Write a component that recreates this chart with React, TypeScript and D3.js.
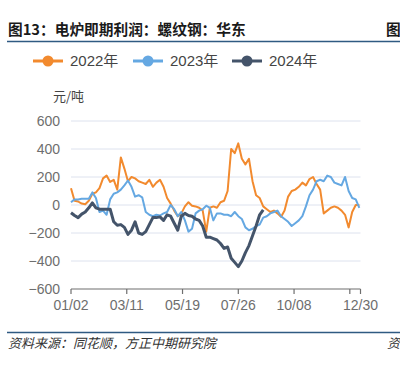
import React from "react";
import * as d3 from "d3";

const title = "图13：电炉即期利润：螺纹钢：华东";
const source = "资料来源：同花顺，方正中期研究院";
const unit = "元/吨";
const seriesNames = ["2022年", "2023年", "2024年"];
const seriesColors = ["#f28a2e", "#65a8e2", "#44546a"];
const seriesWidths = [2, 2, 3];

const totalDays = 244;
const sampleStep = 3;
const xTickIdx = [0, 47, 94, 141, 188, 235, 244];
const xTickLabels = ["01/02", "03/11", "05/19", "07/26", "10/08", "", "12/30"];
const yTicks = [-600, -400, -200, 0, 200, 400, 600];

const v2022 = [
  120, 30, 25, 10, 5, 30, 80, 90, 120, 190, 210, 165, 180, 110, 340, 260, 170, 200, 190, 170,
  160, 150, 180, 130, 160, 180, 130, 50, 10, -40, -80, -60, -10, 20, -5, -10, -20, -40, -190, -20,
  -10, -20, 20, 30, 100, 400, 370, 440, 330, 290, 330, 170, 70, 50, -10, -30, -50, -40, -60, -85,
  -40, 60, 100, 110, 130, 160, 140, 185, 200, 150, 110, -60, -40, -20, -10, -20, -40, -70, -160, -50,
  0, 0,
];
const v2023 = [
  20, 40, 40, 45, 45, 45, 90, 50, -50, -40, -70, 40, 80, 90, 110, 140, 175, 130, 60, 70,
  55, -50, -70, -80, -70, -75, -60, -50, 0, -30, -80, -50, -110, -190, -170, -60, -40, -30, -5, -20,
  -110, -60, -60, -70, -70, -80, -50, -80, -100, -160, -180, -170, -150, -140, -90, -80, -60, -50, -40, -80,
  -100, -120, -150, -130, -110, -80, -10, 70, 110, 170, 180, 170, 210, 200, 160, 150, 140, 200, 100, 50,
  40, -20,
];
const v2024 = [
  -55, -75, -90, -65, -50, -20, 15, -20, -30, -30, -30, -30, -120, -145, -140, -160, -210, -180, -120, -200,
  -210, -190, -140, -90, -90, -85, -110, -70, -80, -130, -180, -80, -60, -75, -80, -100, -110, -150, -230, -230,
  -240, -250, -275, -310, -300, -380, -410, -440, -400, -340, -290, -220, -150, -70, -35,
];

const W = 400;
const H = 365;
const plotL = 71;
const plotR = 360.5;
const plotT = 121;
const plotB = 289;
const fontLatin = "'Liberation Sans', Arial, 'Noto Sans CJK SC', sans-serif";
const fontCJK = "'Noto Sans CJK SC', 'Liberation Sans', sans-serif";

export default function App() {
  const x = d3.scaleLinear().domain([0, totalDays]).range([plotL, plotR]);
  const y = d3.scaleLinear().domain([-600, 600]).range([plotB, plotT]);
  const line = d3
    .line<number>()
    .x((_, i) => x(Math.min(i * sampleStep, totalDays)))
    .y((d) => y(d));
  const data = [v2022, v2023, v2024];
  const legendX = [33, 133, 232];

  return (
    <svg width={W} height={H} style={{ position: "absolute", left: 0, top: 0, background: "#fff" }}>
      <text x={8} y={35} fontFamily={fontCJK} fontSize={14.7} fontWeight="bold" fill="#1a1a1a">
        {title}
      </text>
      <text x={386} y={35} fontFamily={fontCJK} fontSize={14.7} fontWeight="bold" fill="#1a1a1a">
        图
      </text>
      <line x1={7} x2={400} y1={41.5} y2={41.5} stroke="#2f5a82" strokeWidth={1.3} />

      {seriesNames.map((n, i) => (
        <g key={n}>
          <line
            x1={legendX[i]}
            x2={legendX[i] + 30}
            y1={61}
            y2={61}
            stroke={seriesColors[i]}
            strokeWidth={3}
          />
          <circle cx={legendX[i] + 15} cy={61} r={5.5} fill={seriesColors[i]} />
          <text
            x={legendX[i] + 37}
            y={66}
            fontFamily={fontLatin}
            fontSize={15}
            fill="#444"
          >
            {n}
          </text>
        </g>
      ))}

      <text x={53} y={101} fontFamily={fontCJK} fontSize={13} fill="#444">
        {unit}
      </text>

      {yTicks.map((t) => (
        <g key={t}>
          {t !== -600 && (
            <line x1={plotL} x2={plotR} y1={y(t)} y2={y(t)} stroke="#dde2ee" strokeWidth={1} />
          )}
          <text
            x={60}
            y={y(t) + 5}
            textAnchor="end"
            fontFamily={fontLatin}
            fontSize={14}
            fill="#6e6e6e"
          >
            {t < 0 ? "\u2212" + Math.abs(t) : t}
          </text>
        </g>
      ))}

      <line x1={plotL} x2={plotR} y1={plotB} y2={plotB} stroke="#6e6e6e" strokeWidth={1.2} />
      {xTickIdx.map((t, i) => (
        <g key={t}>
          <line x1={x(t)} x2={x(t)} y1={plotB} y2={plotB + 5} stroke="#6e6e6e" strokeWidth={1.2} />
          {xTickLabels[i] && (
            <text
              x={x(t)}
              y={310}
              textAnchor="middle"
              fontFamily={fontLatin}
              fontSize={14}
              fill="#6e6e6e"
            >
              {xTickLabels[i]}
            </text>
          )}
        </g>
      ))}

      {data.map((d, i) => (
        <path
          key={i}
          d={line(d) || ""}
          fill="none"
          stroke={seriesColors[i]}
          strokeWidth={seriesWidths[i]}
          strokeLinejoin="round"
        />
      ))}

      <line x1={7} x2={400} y1={332.5} y2={332.5} stroke="#2f5a82" strokeWidth={1.3} />
      <text x={8} y={348} fontFamily={fontCJK} fontSize={13} fontStyle="italic" fill="#333">
        {source}
      </text>
      <text x={387} y={348} fontFamily={fontCJK} fontSize={13} fontStyle="italic" fill="#333">
        资
      </text>
    </svg>
  );
}
